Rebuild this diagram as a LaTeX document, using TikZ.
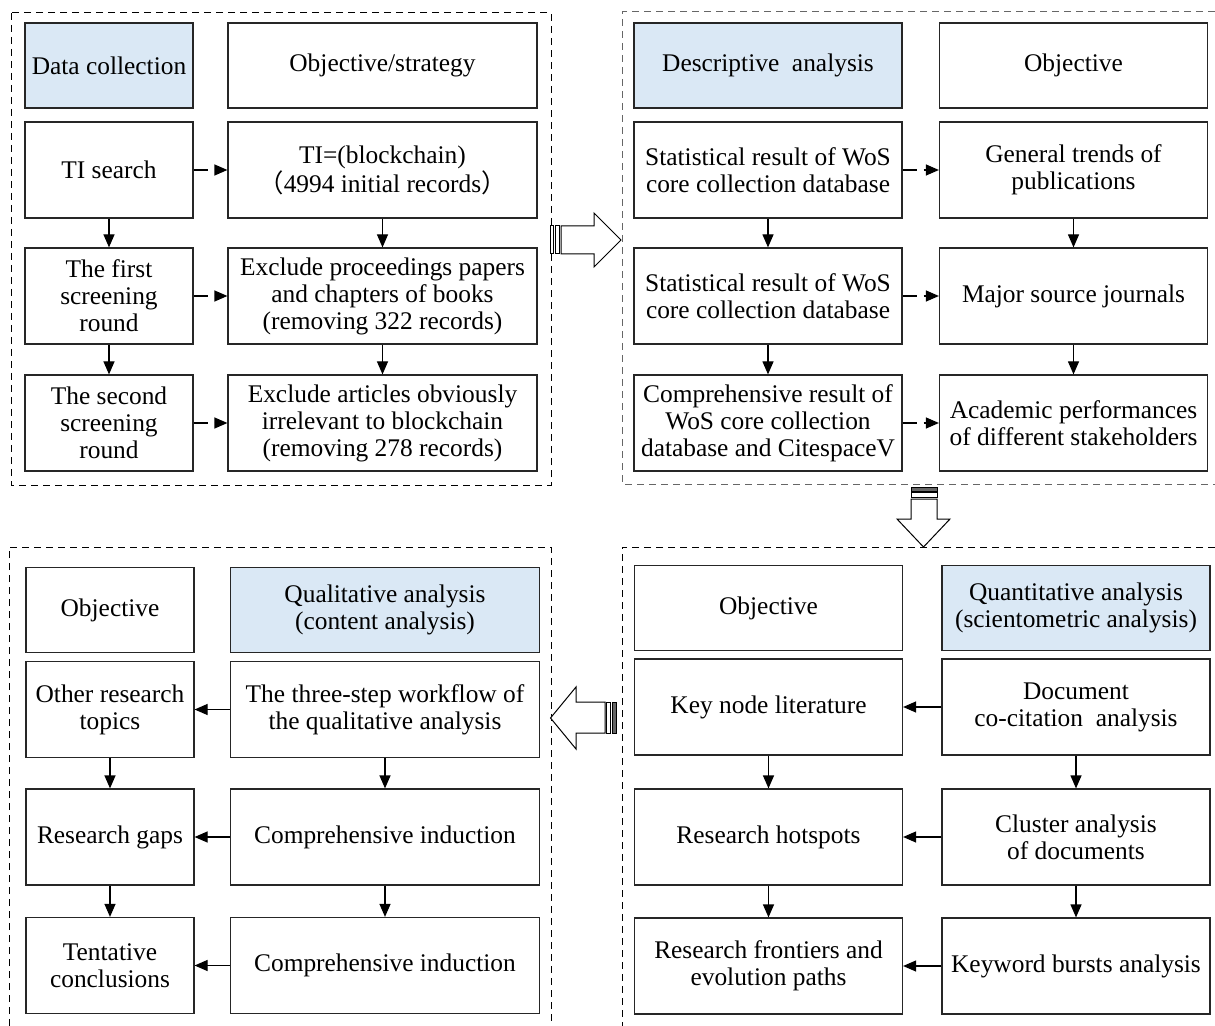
\documentclass[tikz,border=0pt]{standalone}
\usepackage{fontspec}
\setmainfont{Liberation Serif}
\newfontfamily\cjk{Noto Sans CJK SC}
\usetikzlibrary{arrows.meta}
\definecolor{headblue}{RGB}{218,232,245}

\begin{document}
\begin{tikzpicture}[x=0.5pt,y=-0.5pt,
    >={Triangle[length=6.5pt,width=5.5pt]},
    every node/.style={font=\fontsize{12.7}{13.5}\selectfont},
    box/.style={draw=black!85,line width=0.6pt,align=center,inner sep=1pt,minimum height=48pt},
    head/.style={box,minimum height=42.5pt},
    blue/.style={fill=headblue},
    narrow/.style={minimum width=84pt},
    wide/.style={minimum width=154.5pt},
    half/.style={minimum width=134pt},
    panel/.style={dash pattern=on 3.5pt off 2.5pt,line width=0.5pt},
    dashlink/.style={->,line width=0.6pt,dash pattern=on 7pt off 3.5pt},
    link/.style={->,line width=0.6pt},
    block/.style={draw,line width=0.5pt,fill=white,line join=miter}]

  \useasboundingbox (0,0) rectangle (1215,1026);

  \draw [panel] (11,13) rectangle (551,485);
  \draw [panel,black!60] (1215,12) -- (622,12) -- (622,484) -- (1215,484);
  \draw [panel] (9,1026) -- (9,547) -- (551,547) -- (551,1026);
  \draw [panel] (1215,547) -- (622,547) -- (622,1026);

  \node (dc)  [head,blue,narrow] at (109,65.5)  {Data collection};
  \node (os)  [head,wide]        at (382.5,65.5) {Objective/strategy};
  \node (ti)  [box,narrow] at (109,170)   {TI search};
  \node (tiq) [box,wide]   at (382.5,170) {TI=(blockchain)\\{\cjk （}4994 initial records{\cjk ）}};
  \node (s1)  [box,narrow] at (109,296)   {The first\\screening\\round};
  \node (s1q) [box,wide]   at (382.5,296) {Exclude proceedings papers\\and chapters of books\\(removing 322 records)};
  \node (s2)  [box,narrow] at (109,423)   {The second\\screening\\round};
  \node (s2q) [box,wide]   at (382.5,423) {Exclude articles obviously\\irrelevant to blockchain\\(removing 278 records)};

  \draw [dashlink] (ti.east) -- (tiq.west);
  \draw [dashlink] (s1.east) -- (s1q.west);
  \draw [dashlink] (s2.east) -- (s2q.west);
  \draw [link] (ti.south) -- (s1.north);
  \draw [link] (s1.south) -- (s2.north);
  \draw [link] (tiq.south) -- (s1q.north);
  \draw [link] (s1q.south) -- (s2q.north);

  \node (da)  [head,blue,half] at (768,65.5)    {Descriptive\ \ analysis};
  \node (ob1) [head,half]      at (1073.5,65.5) {Objective};
  \node (sr1) [box,half] at (768,170)    {Statistical result of WoS\\core collection database};
  \node (gt)  [box,half] at (1073.5,170) {General trends of\\publications};
  \node (sr2) [box,half] at (768,296)    {Statistical result of WoS\\core collection database};
  \node (ms)  [box,half] at (1073.5,296) {Major source journals};
  \node (cr)  [box,half] at (768,423)    {Comprehensive result of\\WoS core collection\\database and CitespaceV};
  \node (ap)  [box,half] at (1073.5,423) {Academic performances\\of different stakeholders};

  \draw [dashlink] (sr1.east) -- (gt.west);
  \draw [dashlink] (sr2.east) -- (ms.west);
  \draw [dashlink] (cr.east) -- (ap.west);
  \draw [link] (sr1.south) -- (sr2.north);
  \draw [link] (sr2.south) -- (cr.north);
  \draw [link] (gt.south) -- (ms.north);
  \draw [link] (ms.south) -- (ap.north);

  \node (ob2) [head,narrow]    at (110,610) {Objective};
  \node (ql)  [head,blue,wide] at (385,610) {Qualitative analysis\\(content analysis)};
  \node (ort) [box,narrow] at (110,709.5) {Other research\\topics};
  \node (tw)  [box,wide]   at (385,709.5) {The three-step workflow of\\the qualitative analysis};
  \node (rg)  [box,narrow] at (110,837)   {Research gaps};
  \node (ci1) [box,wide]   at (385,837)   {Comprehensive induction};
  \node (tc)  [box,narrow] at (110,965.5) {Tentative\\conclusions};
  \node (ci2) [box,wide]   at (385,965.5) {Comprehensive induction};

  \draw [link] (tw.west) -- (ort.east);
  \draw [link] (ci1.west) -- (rg.east);
  \draw [link] (ci2.west) -- (tc.east);
  \draw [link] (ort.south) -- (rg.north);
  \draw [link] (rg.south) -- (tc.north);
  \draw [link] (tw.south) -- (ci1.north);
  \draw [link] (ci1.south) -- (ci2.north);

  \node (ob3) [head,half]      at (768.5,608) {Objective};
  \node (qn)  [head,blue,half] at (1076,608)  {Quantitative analysis\\(scientometric analysis)};
  \node (kn)  [box,half] at (768.5,707) {Key node literature};
  \node (dcc) [box,half] at (1076,707)  {Document\\co-citation\ \ analysis};
  \node (rh)  [box,half] at (768.5,837) {Research hotspots};
  \node (ca)  [box,half] at (1076,837)  {Cluster analysis\\of documents};
  \node (rf)  [box,half] at (768.5,966) {Research frontiers and\\evolution paths};
  \node (kb)  [box,half] at (1076,966)  {Keyword bursts analysis};

  \draw [link] (dcc.west) -- (kn.east);
  \draw [link] (ca.west) -- (rh.east);
  \draw [link] (kb.west) -- (rf.east);
  \draw [link] (kn.south) -- (rh.north);
  \draw [link] (rh.south) -- (rf.north);
  \draw [link] (dcc.south) -- (ca.north);
  \draw [link] (ca.south) -- (kb.north);

  \draw [block] (550,226) rectangle (553,254);
  \draw [block] (555,226) rectangle (559,254);
  \draw [block] (561,226) -- (594,226) -- (594,213) -- (621,240) -- (594,267) -- (594,254) -- (561,254) -- cycle;

  \draw [block,fill=black!60] (911,487) rectangle (937,491);
  \draw [block] (911,492.5) rectangle (937,497);
  \draw [block] (911,499) -- (937,499) -- (937,519) -- (950,519) -- (923.5,547) -- (897,519) -- (911,519) -- cycle;

  \draw [block,fill=black!60] (612,702) rectangle (616,733);
  \draw [block] (606.5,702) rectangle (610.5,733);
  \draw [block] (605,702) -- (576,702) -- (576,687) -- (550.5,718) -- (576,749) -- (576,733) -- (605,733) -- cycle;
\end{tikzpicture}
\end{document}
